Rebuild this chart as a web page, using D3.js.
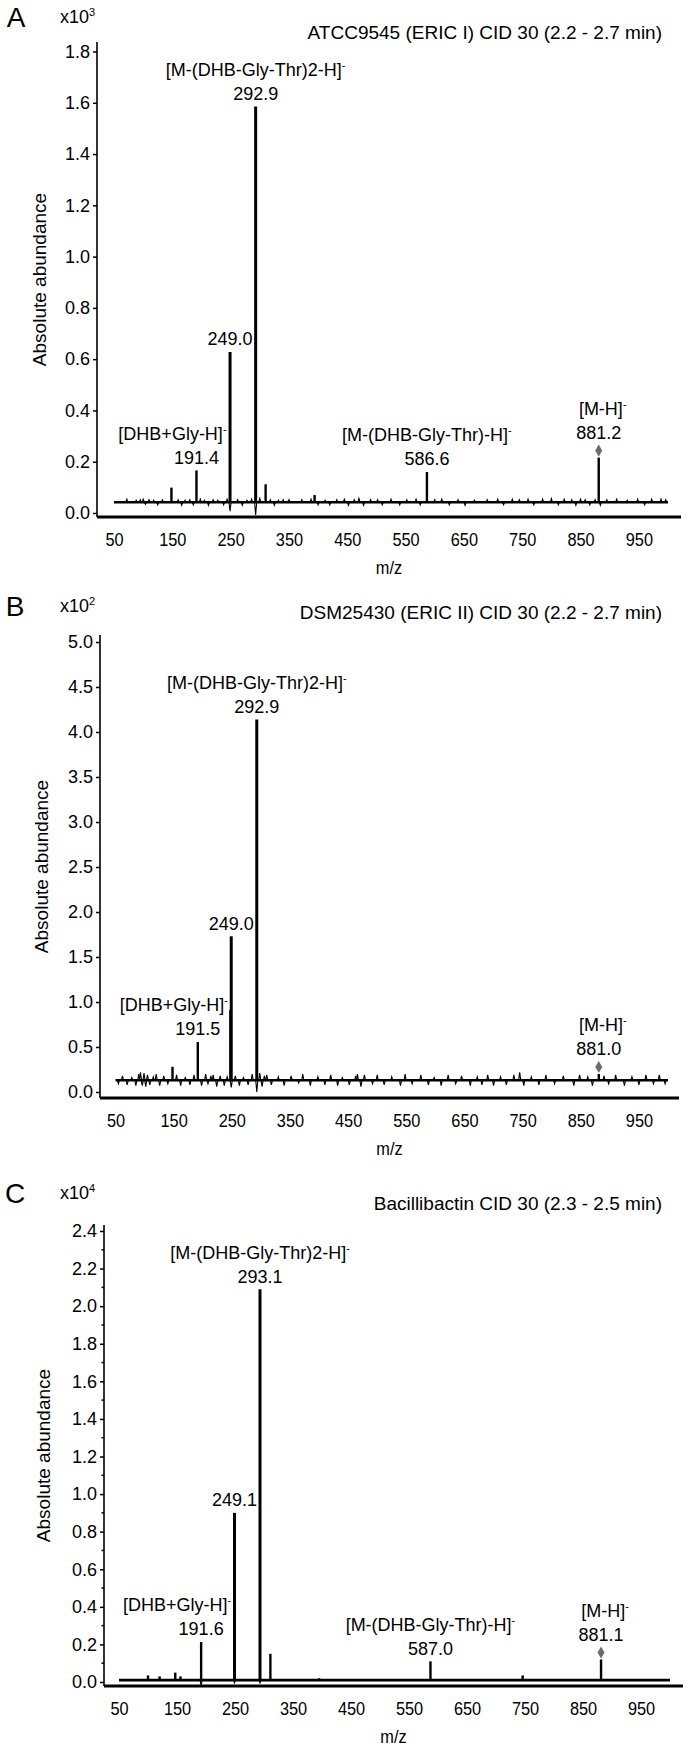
<!DOCTYPE html>
<html>
<head>
<meta charset="utf-8">
<script src="https://cdn.jsdelivr.net/npm/d3@7"></script>
<style>
  body { margin: 0; background: #fff; }
  svg text { font-family: "Liberation Sans", Arial, sans-serif; fill: #000; }
</style>
</head>
<body>
<svg id="fig" width="690" height="1750"></svg>
<script>
// shared x ticks (m/z)
var xTicks = [50, 150, 250, 350, 450, 550, 650, 750, 850, 950];

// Panel A : ATCC9545, abundance in x10^3
var titleA = 'ATCC9545 (ERIC I) CID 30 (2.2 - 2.7 min)';
var yTicksA = [0, 0.2, 0.4, 0.6, 0.8, 1.0, 1.2, 1.4, 1.6, 1.8];
var baseA = 0.042;
var peakMzA = [148.5, 191.4, 249.0, 292.9, 310, 394, 586.6, 881.2];
var peakIntA = [0.099, 0.166, 0.628, 1.585, 0.112, 0.07, 0.16, 0.216];
var labelMzA = [292.9, 249.0, 191.4, 586.6, 881.2];
var labelNameA = ['[M-(DHB-Gly-Thr)2-H]', '', '[DHB+Gly-H]', '[M-(DHB-Gly-Thr)-H]', '[M-H]'];
var noiseA = [
  [72, 0.012], [88, 0.008], [95, 0.01], [100, 0.012], [104, -0.008], [110, 0.01], [118, 0.008],
  [125, -0.01], [133, 0.009], [160, 0.01], [166, -0.012], [172, 0.008], [180, 0.01], [186, -0.01],
  [198, 0.012], [205, 0.008], [212, -0.012], [220, 0.01], [228, 0.008], [238, -0.01], [244, 0.012],
  [249, -0.035], [262, 0.01], [270, -0.012], [278, 0.008], [286, 0.012], [292.9, -0.05], [300, 0.015],
  [318, 0.01], [325, -0.012], [332, 0.008], [340, 0.01], [350, 0.01], [372, 0.01], [388, 0.012],
  [400, -0.01], [412, 0.008], [420, -0.01], [432, 0.01], [445, 0.012], [452, -0.012], [462, 0.01],
  [470, 0.015], [478, -0.012], [490, 0.01], [502, 0.01], [510, -0.01], [525, 0.012], [540, -0.01],
  [552, 0.01], [568, 0.012], [575, -0.01], [600, 0.01], [612, 0.012], [625, -0.01], [640, 0.01],
  [652, -0.012], [668, 0.008], [690, 0.01], [708, 0.012], [718, -0.01], [733, 0.012], [745, 0.01],
  [760, 0.012], [770, -0.01], [785, 0.012], [800, 0.014], [812, -0.01], [822, 0.012], [835, 0.01],
  [842, -0.012], [850, 0.012], [858, 0.01], [866, -0.01], [875, 0.01], [884, -0.012], [895, 0.01],
  [912, 0.012], [930, 0.008], [948, 0.012], [960, -0.01], [972, 0.012], [988, 0.012], [996, 0.01]
];

// Panel B : DSM25430, abundance in x10^2
var titleB = 'DSM25430 (ERIC II) CID 30 (2.2 - 2.7 min)';
var yTicksB = [0, 0.5, 1.0, 1.5, 2.0, 2.5, 3.0, 3.5, 4.0, 4.5, 5.0];
var baseB = 0.13;
var peakMzB = [148, 191.5, 247.5, 249.0, 292.9, 881.0];
var peakIntB = [0.28, 0.555, 0.91, 1.73, 4.14, 0.2];
var labelMzB = [292.9, 249.0, 191.5, 881.0];
var labelNameB = ['[M-(DHB-Gly-Thr)2-H]', '', '[DHB+Gly-H]', '[M-H]'];
var noiseB = [
  [55, -0.04], [62, 0.05], [70, -0.05], [78, 0.03], [85, -0.06], [90, 0.07], [93, 0.09], [96, -0.06],
  [99, 0.08], [102, -0.07], [105, 0.06], [109, -0.05], [115, 0.04], [120, 0.07], [126, -0.06], [133, 0.05],
  [140, -0.04], [155, 0.06], [162, -0.06], [170, 0.03], [178, -0.05], [185, 0.06], [198, -0.06],
  [205, 0.07], [209, -0.04], [214, 0.05], [218, 0.06], [224, -0.07], [230, 0.05], [237, -0.06], [242, 0.04],
  [249, -0.08], [256, 0.05], [263, -0.06], [270, 0.03], [278, -0.05], [285, 0.07], [292.9, -0.13],
  [298, 0.08], [302, -0.07], [306, 0.05], [310, 0.06], [318, -0.05], [330, 0.04], [340, -0.06], [352, 0.05],
  [365, -0.03], [372, 0.07], [385, -0.06], [398, 0.04], [410, -0.05], [420, 0.06], [432, -0.06],
  [440, 0.03], [452, -0.05], [463, 0.05], [466, 0.07], [472, -0.07], [478, 0.06], [492, -0.04], [500, 0.06],
  [512, -0.05], [525, 0.04], [540, -0.06], [548, 0.07], [560, -0.04], [575, 0.06], [588, -0.05],
  [598, 0.03], [610, -0.06], [622, 0.06], [635, -0.04], [645, 0.05], [660, -0.06], [672, 0.04],
  [680, -0.05], [690, 0.06], [700, -0.06], [712, 0.04], [722, -0.05], [735, 0.06], [745, 0.09],
  [752, -0.06], [765, 0.04], [778, -0.05], [790, 0.06], [805, -0.04], [820, 0.05], [838, -0.06],
  [848, 0.06], [862, 0.04], [870, -0.06], [890, 0.05], [898, -0.04], [910, 0.06], [925, -0.06],
  [938, 0.04], [950, -0.05], [962, 0.06], [975, -0.04], [985, 0.06], [995, -0.04]
];

// Panel C : Bacillibactin, abundance in x10^4
var titleC = 'Bacillibactin CID 30 (2.3 - 2.5 min)';
var yTicksC = [0, 0.2, 0.4, 0.6, 0.8, 1.0, 1.2, 1.4, 1.6, 1.8, 2.0, 2.2, 2.4];
var baseC = 0.01;
var peakMzC = [100, 120, 147, 156, 191.6, 249.1, 293.1, 311, 395, 587.0, 689, 746, 881.1];
var peakIntC = [0.035, 0.03, 0.05, 0.03, 0.213, 0.9, 2.09, 0.15, 0.02, 0.11, 0.012, 0.035, 0.12];
var labelMzC = [293.1, 249.1, 191.6, 587.0, 881.1];
var labelNameC = ['[M-(DHB-Gly-Thr)2-H]', '', '[DHB+Gly-H]', '[M-(DHB-Gly-Thr)-H]', '[M-H]'];
var noiseC = [[191.6, -0.03], [249.1, -0.015], [293.1, -0.015]];

var svg = d3.select('#fig');
var fmt = d3.format('.1f');
var nameShift = {'[DHB+Gly-H]': -24, '[M-H]': 4};

function drawPanel(p) {
  var g = svg.append('g');

  var x = d3.scaleLinear().domain([50, 1000]).range([p.x50, p.x1000]);
  var y = d3.scaleLinear().domain([0, p.yMax]).range([p.y0, p.yTop]);

  // letter, exponent, title
  g.append('text').attr('x', p.letterX).attr('y', p.letterY).attr('dy', '0.35em')
      .attr('text-anchor', 'middle').style('font-size', '28px').text(p.letter);
  var ex = g.append('text').attr('x', 60).attr('y', p.letterY).attr('dy', '0.35em')
      .style('font-size', '18px').text('x10');
  ex.append('tspan').attr('dy', '-7').style('font-size', '11px').text(p.exp);
  g.append('text').attr('x', 662).attr('y', p.titleY).attr('dy', '0.35em')
      .attr('text-anchor', 'end').style('font-size', '19px').text(p.title);

  // y axis
  var yAxis = d3.axisLeft(y).tickValues(p.yTicks).tickFormat(fmt).tickSize(4).tickPadding(3);
  var ya = g.append('g').attr('transform', 'translate(' + p.axisX + ',0)').call(yAxis);
  ya.select('.domain').remove();
  ya.selectAll('line').attr('stroke', '#000').attr('stroke-width', 1.5);
  ya.selectAll('text').style('font-size', '18px').attr('fill', '#000');
  if (p.minor) {
    var minor = d3.range(0.1, p.yMax, 0.2);
    g.selectAll('.minor').data(minor).enter().append('line')
        .attr('x1', p.axisX - 2.5).attr('x2', p.axisX)
        .attr('y1', function(d) { return y(d); })
        .attr('y2', function(d) { return y(d); })
        .attr('stroke', '#000').attr('stroke-width', 1.5);
  }
  g.append('line').attr('x1', p.axisX).attr('x2', p.axisX)
      .attr('y1', p.axisTop).attr('y2', p.xAxisY)
      .attr('stroke', '#000').attr('stroke-width', 1.6);

  // x axis
  var xAxis = d3.axisBottom(x).tickValues(xTicks).tickSize(0);
  var xa = g.append('g').attr('transform', 'translate(0,' + p.xAxisY + ')').call(xAxis);
  xa.select('.domain').remove();
  xa.selectAll('text').attr('y', 22).attr('dy', '0.35em')
      .attr('transform', 'scale(0.86,1)')
      .style('font-size', '19px').attr('fill', '#000');
  g.append('line').attr('x1', p.axisX).attr('x2', p.axisEnd)
      .attr('y1', p.xAxisY).attr('y2', p.xAxisY)
      .attr('stroke', '#000').attr('stroke-width', 3);

  // axis titles
  g.append('text').attr('transform', 'translate(' + (p.axisX + p.axisEnd) / 2 + ',' + (p.xAxisY + 50) + ') scale(0.86,1)')
      .attr('dy', '0.35em').attr('text-anchor', 'middle').style('font-size', '19px').text('m/z');
  g.append('text')
      .attr('transform', 'translate(' + p.ylabX + ',' + (p.axisTop + p.xAxisY) / 2 + ') rotate(-90)')
      .attr('dy', '0.35em').attr('text-anchor', 'middle').style('font-size', '19px')
      .text('Absolute abundance');

  // noise spikes
  var spike = d3.line();
  g.selectAll('.noise').data(p.noise).enter().append('path')
      .attr('d', function(d) {
        return spike([[x(d[0] - 1.8), y(p.base)], [x(d[0]), y(p.base + d[1])], [x(d[0] + 1.8), y(p.base)]]);
      })
      .attr('fill', 'none').attr('stroke', '#000').attr('stroke-width', 1.1);

  // baseline
  g.append('line').attr('x1', x(50)).attr('x2', x(1000))
      .attr('y1', y(p.base)).attr('y2', y(p.base))
      .attr('stroke', '#000').attr('stroke-width', 2.6);

  // peaks
  g.selectAll('.peak').data(p.peakMz).enter().append('line')
      .attr('x1', function(d) { return x(d); })
      .attr('x2', function(d) { return x(d); })
      .attr('y1', y(p.base))
      .attr('y2', function(d, i) { return y(p.peakInt[i]); })
      .attr('stroke', '#000')
      .attr('stroke-width', function(d, i) { return p.peakInt[i] > p.yMax * 0.3 ? 3 : 2.4; });

  // peak labels
  p.labelMz.forEach(function(mz, i) {
    var top = y(p.peakInt[p.peakMz.indexOf(mz)]);
    var name = p.labelName[i];
    var isParent = name === '[M-H]';
    var numY = top - (isParent ? 25 : 13);
    if (isParent) {
      g.append('path')
          .attr('d', d3.symbol().type(d3.symbolDiamond).size(42)())
          .attr('transform', 'translate(' + x(mz) + ',' + (top - 7) + ')')
          .attr('fill', '#6b6b6b');
    }
    g.append('text').attr('x', x(mz)).attr('y', numY).attr('dy', '0.35em')
        .attr('text-anchor', 'middle').style('font-size', '18px').text(fmt(mz));
    if (name) {
      var t = g.append('text').attr('x', x(mz) + (nameShift[name] || 0)).attr('y', numY - 24)
          .attr('dy', '0.35em').attr('text-anchor', 'middle').style('font-size', '18px').text(name);
      t.append('tspan').attr('dy', '-7').style('font-size', '11px').text('-');
    }
  });
}

drawPanel({
  letter: 'A', exp: '3', title: titleA, letterX: 16, letterY: 17, titleY: 32,
  axisX: 97, axisTop: 42, y0: 513, yTop: 51.5, yMax: 1.8, yTicks: yTicksA,
  xAxisY: 517, x50: 114, x1000: 668, axisEnd: 681, ylabX: 39,
  base: baseA, peakMz: peakMzA, peakInt: peakIntA, noise: noiseA,
  labelMz: labelMzA, labelName: labelNameA
});

drawPanel({
  letter: 'B', exp: '2', title: titleB, letterX: 15, letterY: 606, titleY: 612,
  axisX: 100, axisTop: 635, y0: 1092, yTop: 642, yMax: 5.0, yTicks: yTicksB,
  xAxisY: 1098, x50: 115.5, x1000: 668, axisEnd: 679, ylabX: 41,
  base: baseB, peakMz: peakMzB, peakInt: peakIntB, noise: noiseB,
  labelMz: labelMzB, labelName: labelNameB
});

drawPanel({
  letter: 'C', exp: '4', title: titleC, letterX: 15, letterY: 1193, titleY: 1203,
  axisX: 104, axisTop: 1225, y0: 1682, yTop: 1231, yMax: 2.4, yTicks: yTicksC, minor: true,
  xAxisY: 1686, x50: 119, x1000: 670, axisEnd: 683, ylabX: 43,
  base: baseC, peakMz: peakMzC, peakInt: peakIntC, noise: noiseC,
  labelMz: labelMzC, labelName: labelNameC
});
</script>
</body>
</html>
